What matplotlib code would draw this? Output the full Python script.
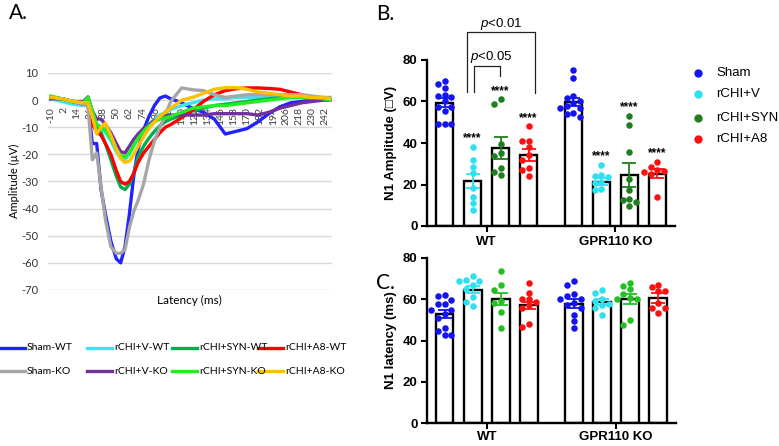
import matplotlib
matplotlib.use('Agg')
import matplotlib.pyplot as plt
import numpy as np
from matplotlib.lines import Line2D

plt.rcParams['font.family'] = ['Liberation Sans', 'DejaVu Sans']
plt.rcParams['mathtext.fontset'] = 'custom'
plt.rcParams['mathtext.it'] = 'Liberation Sans:italic'
plt.rcParams['mathtext.rm'] = 'Liberation Sans'

# ---------------- Panel A data (N1 traces) ----------------
latency = [-10, 0, 10, 20, 24, 28, 32, 36, 40, 45, 50, 54, 58, 62, 66, 70, 75, 80, 85, 90,
           95, 100, 110, 120, 130, 140, 150, 160, 170, 180, 190, 200, 210, 220, 230, 240, 246]
sham_wt = [0.5, 0, -1, -1, -1.5, -16, -16, -33, -42, -52, -58.5, -60, -54, -42, -28, -18, -11, -6, -2, 0.8,
           1.5, 0.5, -1, -3, -4.5, -7, -12.5, -11.5, -10.5, -8, -5, -2.5, -1, -0.5, 0, 0.5, 0.5]
v_wt = [0.5, -0.5, -1.5, -2, -2, -5, -9, -10, -12, -15, -19, -21.5, -22, -20, -17, -14, -11.5, -9, -7, -5.5,
        -4.5, -3.5, -2, -1, 0, 0.5, 0.5, 1, 1, 1, 1, 1, 1, 1, 1, 0.5, 0.5]
syn_wt = [1, 0.5, -0.5, -1, 0.5, -5, -10, -12, -16, -22, -28, -32, -33, -31, -27, -21, -17, -14, -11.5, -9.5,
          -8, -7, -5.5, -4, -3, -2, -1.5, -1, -0.5, 0, 0.5, 1, 1, 1, 0.5, 0.5, 0]
a8_wt = [1, 0.5, -0.5, -1.5, -1.5, -9, -11.5, -13, -16, -20, -26, -30, -31, -30, -27, -23, -19.5, -17, -14.5, -12,
         -10, -9, -6.5, -3.7, -0.5, 2, 3.5, 4.2, 4.5, 4.5, 4.3, 4, 3, 2, 1, 0.5, 0]
sham_ko = [1, 0.5, -0.5, -1.5, -2, -22, -19.5, -32, -44, -54, -56.5, -56.5, -55, -47, -41, -37, -31, -22, -15, -10,
           -5.5, -0.5, 4.5, 3.8, 3.5, 2, 1, 1.5, 2, 2, 2, 2, 2, 2, 1.5, 1, 1]
v_ko = [0.5, 0.5, -0.5, -0.5, 1.2, -4, -7, -7, -9, -12, -16, -19, -19.5, -17, -14.5, -12.5, -10.5, -9, -7.5, -6.5,
        -5.8, -5.5, -5.5, -5.5, -5.5, -5, -5, -5, -5, -5.5, -4.5, -3, -2, -1, -0.5, 0, 0]
syn_ko = [1.5, 0.5, -0.5, -1, 1, -4, -9, -10, -11, -14, -18, -20.5, -21, -19.5, -16.5, -14, -11.5, -9.5, -8, -7,
          -6.5, -6, -4.5, -3, -2.5, -2, -2, -1.5, -1, -0.5, 0, 0.5, 1, 1, 1, 0.5, 0]
a8_ko = [1, 0.5, -0.5, -1, -1, -6, -12.5, -10, -8.5, -13, -18, -21.5, -23, -22.5, -20, -17, -13.5, -10.5, -8, -6,
         -4.5, -3, 0, 1, 2.5, 4, 4.6, 4.6, 4, 3, 2.5, 2, 1.5, 1.5, 1, 1, 0.5]
trace_labels = ['Sham-WT', 'rCHI+V-WT', 'rCHI+SYN-WT', 'rCHI+A8-WT',
                'Sham-KO', 'rCHI+V-KO', 'rCHI+SYN-KO', 'rCHI+A8-KO']
trace_colors = ['#2222ff', '#3ee4f5', '#00b050', '#ff0000',
                '#a6a6a6', '#7030a0', '#22ee22', '#ffc000']
traces = [sham_wt, v_wt, syn_wt, a8_wt, sham_ko, v_ko, syn_ko, a8_ko]
a_xticks = list(range(-10, 243, 12))
a_yticks = list(range(-70, 11, 10))

# ---------------- Panels B/C data ----------------
groups = ['WT', 'GPR110 KO']
conds = ['Sham', 'rCHI+V', 'rCHI+SYN', 'rCHI+A8']

amp_mean_wt = [59.5, 21.7, 37.6, 34.2]
amp_sem_wt = [2.0, 3.6, 5.3, 2.7]
amp_mean_ko = [59.9, 21.4, 24.6, 25.1]
amp_sem_ko = [1.9, 1.5, 5.8, 2.2]
amp_pts_wt = [
    [70, 68.5, 66.5, 63, 62.5, 62, 60, 57.5, 57.5, 55.5, 49, 49, 49],
    [38, 32, 28.5, 25.5, 18.5, 14, 11, 7.5],
    [61, 59, 39.5, 35, 33.5, 28, 26, 24.5],
    [48, 41, 41, 38, 34, 32, 28, 27, 24],
]
amp_pts_ko = [
    [75, 71.5, 62.5, 61.5, 60, 59.5, 58, 57, 57, 54.5, 54, 52.5],
    [29.5, 24.5, 24, 23.5, 21, 20.5, 18, 17.5],
    [53, 48.5, 35.5, 22.5, 17.5, 13, 12.5, 11.5, 9.5],
    [31, 28.5, 27, 26.5, 26, 25, 14],
]
amp_stars = ['', '****', '****', '****']

lat_mean_wt = [53.0, 64.7, 60.0, 57.0]
lat_sem_wt = [2.0, 1.9, 3.0, 1.8]
lat_mean_ko = [57.8, 58.5, 60.0, 60.7]
lat_sem_ko = [2.1, 1.5, 2.4, 2.5]
lat_pts_wt = [
    [62, 61.5, 59.5, 57.5, 57.5, 55, 55, 53, 51, 46, 44.5, 42.5, 42.5],
    [71.5, 69.5, 69, 69, 67, 65, 61, 58.5, 56.5],
    [73.5, 67, 64.5, 59, 58, 54, 46],
    [68, 63, 60, 60, 58.5, 57, 56, 48, 46.5],
]
lat_pts_ko = [
    [69, 67, 62.5, 61.5, 60, 60, 58, 57, 56, 52.5, 49.5, 46],
    [64.5, 63, 60, 59, 57.5, 57, 56, 52.5],
    [68, 66.5, 65, 62.5, 60.5, 60, 60, 50, 47.5],
    [67, 66, 64, 64, 58, 56, 56, 53.5],
]
colors_b = ['#1414f0', '#2ee0f0', '#1f7f1f', '#ff1010']
colors_c = ['#1414f0', '#2ee0f0', '#22c022', '#ff1010']

# ---------------- figure ----------------
W, H = 779, 446
fig = plt.figure(figsize=(W / 100, H / 100), dpi=100)


def fx(px):
    return px / W


def fy(py):
    return 1 - py / H


# ---- Panel A ----
lato = ['Lato', 'DejaVu Sans']
axA = fig.add_axes([fx(48), fy(290), (332 - 48) / W, (290 - 73) / H])
axA.set_xlim(-12.7, 248)
axA.set_ylim(-70, 10)
for s in axA.spines.values():
    s.set_visible(False)
axA.spines['bottom'].set_position(('data', 0))
axA.set_yticks(a_yticks)
axA.set_yticklabels([str(v) for v in a_yticks], fontsize=8, color='#333333', family=lato)
axA.set_xticks(a_xticks)
axA.set_xticklabels([str(v) for v in a_xticks], rotation=90, fontsize=7.5, color='#404040', family=lato)
axA.tick_params(axis='both', length=0)
axA.tick_params(axis='y', pad=7)
axA.tick_params(axis='x', pad=5)
axA.yaxis.grid(True, color='#d9d9d9', linewidth=1.0)
axA.set_axisbelow(True)
for y, c in zip(traces, trace_colors):
    axA.plot(latency, y, color=c, linewidth=2.4, solid_joinstyle='round', zorder=3)

fig.text(fx(14), fy(181), 'Amplitude (µV)', rotation=90, ha='center', va='center',
         fontsize=8, family=lato)
fig.text(fx(189), fy(300), 'Latency (ms)', ha='center', va='center', fontsize=8.5, family=lato)

# legend for A (4 columns x 2 rows)
col_x = [0, 87, 172, 258]
row_y = [348, 371]
for k, (lab, c) in enumerate(zip(trace_labels, trace_colors)):
    col = k % 4
    row = k // 4
    x0 = col_x[col]
    yy = fy(row_y[row])
    fig.add_artist(Line2D([fx(x0), fx(x0 + 25)], [yy, yy], color=c, linewidth=2.4,
                          transform=fig.transFigure))
    fig.text(fx(x0 + 27), yy, lab, ha='left', va='center', fontsize=7.5, family=lato)

fig.text(fx(9), fy(19), 'A.', fontsize=15, family=lato)
fig.text(fx(376), fy(20), 'B.', fontsize=15, family=lato)
fig.text(fx(376), fy(289), 'C.', fontsize=15, family=lato)

# ---- Panels B and C ----
XPX = 28.0          # pixels per bar slot
group_centers = [0.0, 4.6]
bar_w = 0.63


def swarm(vals, ypx, d=6.7):
    placed = []
    offs = np.zeros(len(vals))
    order = np.argsort(-np.asarray(vals, dtype=float), kind='stable')
    for idx in order:
        y = vals[idx] * ypx
        x = 0.0
        for k in [0, -1, 1, -2, 2, -3, 3]:
            x = k * d
            if all((x - p) ** 2 + (y - q) ** 2 >= (d * 0.8) ** 2 for p, q in placed):
                break
        placed.append((x, y))
        offs[idx] = x / XPX
    return offs


def draw_bars(ax, means_list, sems_list, pts_list, colors, ypx):
    for g in range(2):
        for i in range(4):
            x = group_centers[g] + (i - 1.5)
            ax.bar(x, means_list[g][i], width=bar_w, color='white', edgecolor='black',
                   linewidth=1.7, zorder=1)
            pts = pts_list[g][i]
            offs = swarm(pts, ypx)
            ax.scatter(x + offs, pts, s=22, color=colors[i], linewidths=0, zorder=3, clip_on=False)
            ax.errorbar(x, means_list[g][i], yerr=sems_list[g][i], color=colors[i], capsize=5,
                        elinewidth=1.3, capthick=1.3, zorder=4)


def style_axis(ax, ylabel, xpad):
    ax.set_xlim(-2.136, 6.73)
    ax.set_ylim(0, 80)
    ax.spines['top'].set_visible(False)
    ax.spines['right'].set_visible(False)
    ax.spines['left'].set_linewidth(1.7)
    ax.spines['bottom'].set_linewidth(1.7)
    ax.set_yticks([0, 20, 40, 60, 80])
    ax.set_yticklabels(['0', '20', '40', '60', '80'], fontsize=9.5, fontweight='bold')
    ax.set_xticks(group_centers)
    ax.set_xticklabels(groups, fontsize=9.5, fontweight='bold')
    ax.tick_params(axis='both', length=4.5, width=1.5, pad=2)
    ax.tick_params(axis='x', pad=xpad)
    ax.set_ylabel(ylabel, fontsize=9.5, fontweight='bold', labelpad=4)


ypx_per_unit = 166.0 / 80.0

axB = fig.add_axes([fx(426.7), fy(226), (675 - 426.7) / W, 166 / H])
draw_bars(axB, [amp_mean_wt, amp_mean_ko], [amp_sem_wt, amp_sem_ko],
          [amp_pts_wt, amp_pts_ko], colors_b, ypx_per_unit)
style_axis(axB, 'N1 Amplitude (□V)', 2.5)

# significance stars
for g, pts_g in enumerate([amp_pts_wt, amp_pts_ko]):
    for i in range(4):
        if amp_stars[i]:
            x = group_centers[g] + (i - 1.5)
            axB.text(x, max(pts_g[i]) + 2.7, amp_stars[i], ha='center', va='baseline',
                     fontsize=8.5, fontweight='bold', clip_on=False)

# brackets
axB.plot([-0.44, -0.44, 0.48, 0.48], [64.7, 77.3, 77.3, 72.3], color='#222222', lw=0.9,
         clip_on=False)
axB.plot([-0.69, -0.69, 1.74, 1.74], [64.7, 93.3, 93.3, 64.0], color='#222222', lw=0.9,
         clip_on=False)
axB.text(0.19, 79.8, r'$\mathit{p}$<0.05', ha='center', va='baseline', fontsize=9.5, clip_on=False)
axB.text(0.54, 95.8, r'$\mathit{p}$<0.01', ha='center', va='baseline', fontsize=9.5, clip_on=False)

axC = fig.add_axes([fx(426.7), fy(423), (676 - 426.7) / W, 165 / H])
draw_bars(axC, [lat_mean_wt, lat_mean_ko], [lat_sem_wt, lat_sem_ko],
          [lat_pts_wt, lat_pts_ko], colors_c, 165.0 / 80.0)
style_axis(axC, 'N1 latency (ms)', 1.0)

# legend for B
leg_y = [72.7, 94.3, 117.7, 139.3]
for lab, c, yy in zip(conds, colors_b, leg_y):
    fig.add_artist(Line2D([fx(698)], [fy(yy)], marker='o', markersize=5, color=c,
                          linestyle='none', transform=fig.transFigure))
    fig.text(fx(716), fy(yy), lab, ha='left', va='center', fontsize=9.5)

fig.savefig('out.png', dpi=100)
